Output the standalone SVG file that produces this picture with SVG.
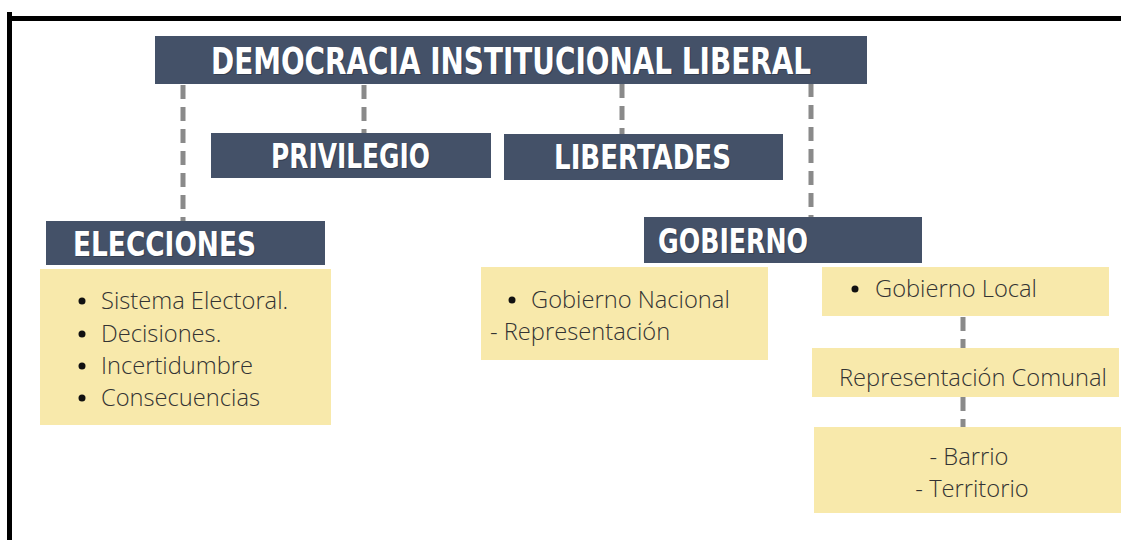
<svg xmlns="http://www.w3.org/2000/svg" width="1121" height="540" viewBox="0 0 1121 540">
<style>
.hdr{fill:#445168;}
.note{fill:#f8e9ab;}
.ht{font-family:"Liberation Sans Narrow","DejaVu Sans Condensed","Liberation Sans",sans-serif;font-weight:bold;fill:#ffffff;}
.sh{font-family:"Liberation Sans Narrow","DejaVu Sans Condensed","Liberation Sans",sans-serif;font-weight:bold;fill:#2a3242;opacity:0.6;}
.bt{font-family:"Open Sans","Liberation Sans",sans-serif;font-size:23.7px;font-weight:300;fill:#333333;}
.con{stroke:#8a8a8a;stroke-width:5;stroke-dasharray:14 8;fill:none;}
</style>
<rect x="0" y="0" width="1121" height="540" fill="#ffffff"/>
<g id="frame">
<line x1="9.5" y1="12" x2="9.5" y2="540" stroke="#000" stroke-width="5"/>
<line x1="7" y1="18.5" x2="1121" y2="18.5" stroke="#000" stroke-width="5"/>
</g>
<g id="connectors">
<line class="con" x1="183" y1="85" x2="183" y2="221"/>
<line class="con" x1="364" y1="85" x2="364" y2="133"/>
<line class="con" x1="622" y1="84" x2="622" y2="134"/>
<line class="con" x1="811" y1="83" x2="811" y2="217"/>
<line class="con" x1="963" y1="317" x2="963" y2="348"/>
<line class="con" x1="963" y1="397" x2="963" y2="427"/>
</g>
<g id="title">
<rect class="hdr" x="155" y="36" width="712" height="48"/>
<text class="sh" x="212" y="75" font-size="38" textLength="600" lengthAdjust="spacingAndGlyphs">DEMOCRACIA INSTITUCIONAL LIBERAL</text>
<text class="ht" x="211" y="74" font-size="38" textLength="600" lengthAdjust="spacingAndGlyphs">DEMOCRACIA INSTITUCIONAL LIBERAL</text>
</g>
<g id="privilegio">
<rect class="hdr" x="211" y="133" width="280" height="45"/>
<text class="sh" x="272" y="169" font-size="33" textLength="159" lengthAdjust="spacingAndGlyphs">PRIVILEGIO</text>
<text class="ht" x="271" y="168" font-size="33" textLength="159" lengthAdjust="spacingAndGlyphs">PRIVILEGIO</text>
</g>
<g id="libertades">
<rect class="hdr" x="504" y="134" width="279" height="46"/>
<text class="sh" x="555" y="170" font-size="33" textLength="177" lengthAdjust="spacingAndGlyphs">LIBERTADES</text>
<text class="ht" x="554" y="169" font-size="33" textLength="177" lengthAdjust="spacingAndGlyphs">LIBERTADES</text>
</g>
<g id="elecciones">
<rect class="hdr" x="46" y="221" width="279" height="44"/>
<text class="sh" x="74" y="257" font-size="34" textLength="183" lengthAdjust="spacingAndGlyphs">ELECCIONES</text>
<text class="ht" x="73" y="256" font-size="34" textLength="183" lengthAdjust="spacingAndGlyphs">ELECCIONES</text>
</g>
<g id="elecciones-list">
<rect class="note" x="40" y="269" width="291" height="156"/>
<circle cx="82" cy="301" r="3.5" fill="#111"/>
<circle cx="82" cy="334" r="3.5" fill="#111"/>
<circle cx="82" cy="366" r="3.5" fill="#111"/>
<circle cx="82" cy="398" r="3.5" fill="#111"/>
<text class="bt" x="101" y="309">Sistema Electoral.</text>
<text class="bt" x="101" y="342">Decisiones.</text>
<text class="bt" x="101" y="374">Incertidumbre</text>
<text class="bt" x="101" y="406">Consecuencias</text>
</g>
<g id="gobierno">
<rect class="hdr" x="644" y="217" width="278" height="46"/>
<text class="sh" x="659" y="254" font-size="34" textLength="150" lengthAdjust="spacingAndGlyphs">GOBIERNO</text>
<text class="ht" x="658" y="253" font-size="34" textLength="150" lengthAdjust="spacingAndGlyphs">GOBIERNO</text>
</g>
<g id="gobierno-nacional">
<rect class="note" x="481" y="267" width="287" height="93"/>
<circle cx="512" cy="300" r="3.5" fill="#111"/>
<text class="bt" x="531" y="308">Gobierno Nacional</text>
<text class="bt" x="490" y="340">- Representación</text>
</g>
<g id="gobierno-local">
<rect class="note" x="822" y="267" width="287" height="49"/>
<circle cx="855" cy="289" r="3.5" fill="#111"/>
<text class="bt" x="875" y="297">Gobierno Local</text>
</g>
<g id="representacion-comunal">
<rect class="note" x="812" y="348" width="307" height="49"/>
<text class="bt" x="839" y="386">Representación Comunal</text>
</g>
<g id="barrio-territorio">
<rect class="note" x="814" y="427" width="307" height="86"/>
<text class="bt" x="969" y="465" text-anchor="middle">- Barrio</text>
<text class="bt" x="972" y="497" text-anchor="middle">- Territorio</text>
</g>
</svg>
